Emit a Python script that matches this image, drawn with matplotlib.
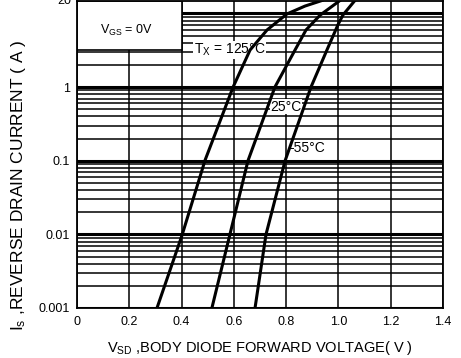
import numpy as np
import matplotlib
matplotlib.use("Agg")
import matplotlib.pyplot as plt
from matplotlib.ticker import LogLocator, NullFormatter, FixedLocator
from matplotlib.patches import Rectangle

plt.rcParams['font.family'] = ['Liberation Sans', 'DejaVu Sans']
plt.rcParams['mathtext.default'] = 'regular'

# curves (V_SD in volts, I_S in amps)
v_125 = [0.306, 0.402, 0.490, 0.597, 0.662, 0.727, 0.803, 0.872, 0.937]
i_125 = [0.001, 0.0098, 0.102, 1.0, 3.19, 5.97, 9.84, 12.6, 15.0]

v_25 = [0.516, 0.585, 0.654, 0.757, 0.834, 0.876, 0.930, 1.006]
i_25 = [0.001, 0.01, 0.1, 1.0, 3.19, 5.97, 9.5, 15.0]

v_m55 = [0.681, 0.723, 0.796, 0.895, 0.956, 0.998, 1.017, 1.063]
i_m55 = [0.001, 0.01, 0.1, 1.0, 3.19, 7.0, 9.5, 15.0]

x_ticks = [0, 0.2, 0.4, 0.6, 0.8, 1.0, 1.2, 1.4]
x_labels = ['0', '0.2', '0.4', '0.6', '0.8', '1.0', '1.2', '1.4']
y_labels = ['0.001', '0.01', '0.1', '1', '']

fig = plt.figure(figsize=(4.61, 3.58), dpi=100)
ax = fig.add_axes([77/461, 50/358, 366/461, 307.5/358])

ax.set_yscale('log')
ax.set_xlim(0, 1.4)
ax.set_ylim(0.001, 15)

ax.set_xticks(x_ticks)
ax.set_xticklabels(x_labels)
ax.yaxis.set_major_locator(FixedLocator([0.001, 0.01, 0.1, 1, 10]))
ax.set_yticklabels(y_labels)
ax.yaxis.set_minor_locator(LogLocator(base=10, subs=range(2, 10), numticks=20))
ax.yaxis.set_minor_formatter(NullFormatter())

ax.tick_params(which='both', length=0)
ax.tick_params(axis='x', labelsize=9, pad=6)
ax.tick_params(axis='y', labelsize=9, pad=5)

ax.set_axisbelow(True)
ax.grid(True, axis='x', which='major', color='black', lw=1.1)
ax.grid(True, axis='y', which='major', color='black', lw=2.2)
ax.grid(True, axis='y', which='minor', color='black', lw=1.1)

for s in ax.spines.values():
    s.set_linewidth(1.3)
    s.set_zorder(2.5)

# white box with the test condition, top left
ax.add_patch(Rectangle((0, 3.2), 0.4, 15 - 3.2, facecolor='white',
                       edgecolor='black', lw=1.2, zorder=1.5))
ax.text(0.19, 5.9, 'V$_{GS}$ = 0V', fontsize=9, ha='center', va='center', zorder=3)

ax.plot(v_125, i_125, color='black', lw=2.2, zorder=3)
ax.plot(v_25, i_25, color='black', lw=2.2, zorder=3)
ax.plot(v_m55, i_m55, color='black', lw=2.2, zorder=3)

bb = dict(facecolor='white', edgecolor='none', pad=0.5)
ax.text(0.585, 3.19, 'T$_X$ = 125°C', fontsize=10, ha='center', va='center',
        bbox=bb, zorder=2)
ax.text(0.80, 0.54, '25°C', fontsize=10, ha='center', va='center',
        bbox=bb, zorder=2)
ax.text(0.88, 0.149, '-55°C', fontsize=10, ha='center', va='center',
        bbox=bb, zorder=2)

ax.text(-0.015, 1.0, '20', fontsize=9, ha='right', va='center',
        transform=ax.transAxes)

ax.set_xlabel('V$_{SD}$ ,BODY DIODE FORWARD VOLTAGE( V )', fontsize=10.5, labelpad=8)
ax.set_ylabel('I$_s$ ,REVERSE DRAIN CURRENT ( A )', fontsize=12.5)
ax.yaxis.set_label_coords(-0.135, 0.40)

fig.savefig('out.png', dpi=100)
